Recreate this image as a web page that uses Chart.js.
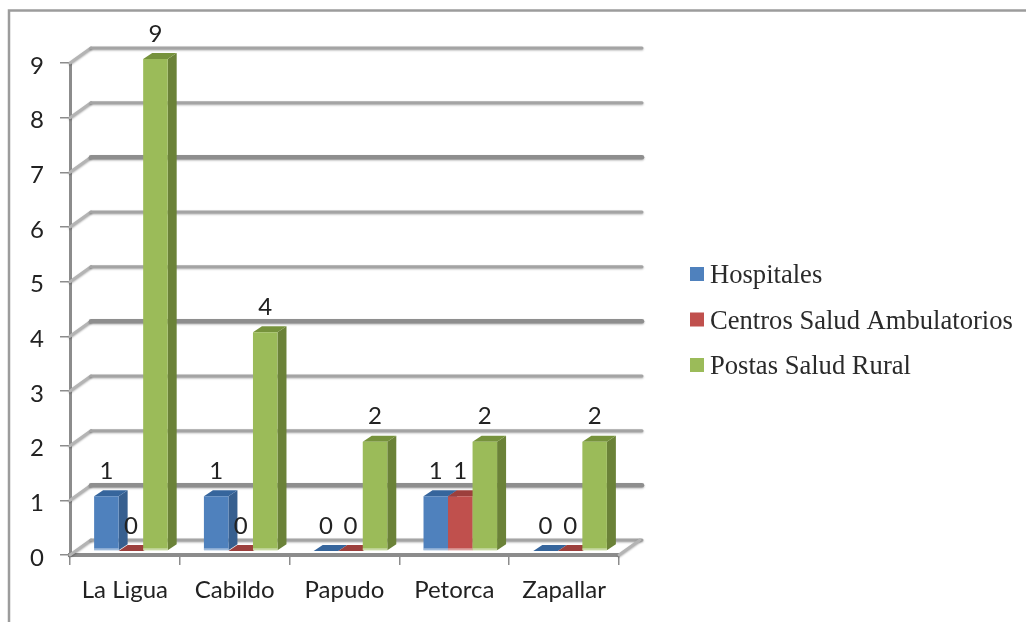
<!DOCTYPE html>
<html>
<head>
<meta charset="utf-8">
<style>
  html, body { margin: 0; padding: 0; background: #fff; }
  #wrap { position: relative; width: 1026px; height: 622px; }
</style>
<script src="https://cdn.jsdelivr.net/npm/chart.js@4"></script>
</head>
<body>
<div id="wrap"><canvas id="barras" width="1026" height="622"></canvas></div>
<script>
var comunas = ['La Ligua', 'Cabildo', 'Papudo', 'Petorca', 'Zapallar'];
var hospitales = [1, 1, 0, 1, 0];
var centros = [0, 0, 0, 1, 0];
var postas = [9, 4, 2, 2, 2];

// fake 3d: wall depth, bar shift from the floor, bar depth
var WALL = { x: 21, y: -15 };
var SHIFT = { x: 6, y: -4 };
var DEPTH = { x: 9, y: -6 };
var GRIS = '#8c8c8c';

var lados = ['#375f8f', '#8c3a38', '#6b8238'];
var techos = ['#36659c', '#9c3f3c', '#76923c'];

function paredes(chart) {
  var ctx = chart.ctx, y = chart.scales.y, a = chart.chartArea;
  ctx.save();
  ctx.lineCap = 'round';
  y.ticks.forEach(function (t) {
    var py = y.getPixelForValue(t.value);
    var grueso = (t.value - 1) % 3 === 0;
    ctx.shadowColor = 'rgba(0,0,0,0.3)';
    ctx.shadowBlur = 2;
    ctx.shadowOffsetY = 1;
    // diagonal on the left side wall
    ctx.strokeStyle = '#b4b4b4';
    ctx.lineWidth = 3;
    ctx.beginPath();
    ctx.moveTo(a.left, py);
    ctx.lineTo(a.left + WALL.x, py + WALL.y);
    ctx.stroke();
    // back wall line
    ctx.strokeStyle = grueso ? '#8e8e8e' : '#a4a4a4';
    ctx.lineWidth = grueso ? 4.5 : 3;
    ctx.beginPath();
    ctx.moveTo(a.left + WALL.x, py + WALL.y);
    ctx.lineTo(a.right + WALL.x + 2, py + WALL.y);
    ctx.stroke();
  });
  // right edge of the floor
  var y0 = y.getPixelForValue(0);
  ctx.strokeStyle = '#b4b4b4';
  ctx.lineWidth = 3;
  ctx.beginPath();
  ctx.moveTo(a.right, y0);
  ctx.lineTo(a.right + WALL.x, y0 + WALL.y);
  ctx.stroke();
  ctx.restore();
}

function barras3d(chart) {
  var ctx = chart.ctx;
  // datasets in index order so the nearest series ends up on top
  chart.data.datasets.forEach(function (ds, i) {
    var meta = chart.getDatasetMeta(i);
    ctx.save();
    ctx.translate(SHIFT.x, SHIFT.y);
    meta.data.forEach(function (bar) {
      var w = bar.width / 2;
      var r = bar.x + w, l = bar.x - w;
      ctx.fillStyle = lados[i];
      ctx.beginPath();
      ctx.moveTo(r, bar.y);
      ctx.lineTo(r + DEPTH.x, bar.y + DEPTH.y);
      ctx.lineTo(r + DEPTH.x, bar.base + DEPTH.y);
      ctx.lineTo(r, bar.base);
      ctx.closePath();
      ctx.fill();
      ctx.fillStyle = techos[i];
      ctx.beginPath();
      ctx.moveTo(l, bar.y);
      ctx.lineTo(l + DEPTH.x, bar.y + DEPTH.y);
      ctx.lineTo(r + DEPTH.x, bar.y + DEPTH.y);
      ctx.lineTo(r, bar.y);
      ctx.closePath();
      ctx.fill();
    });
    meta.controller.draw();
    // pale rim at the foot of each bar
    meta.data.forEach(function (bar) {
      if (bar.base - bar.y < 2) return;
      ctx.fillStyle = 'rgba(255,255,255,0.45)';
      ctx.fillRect(bar.x - bar.width / 2, bar.base - 2, bar.width, 2);
    });
    ctx.restore();
  });
}

function etiquetas(chart) {
  var ctx = chart.ctx;
  ctx.save();
  ctx.font = '24px Lato';
  ctx.fillStyle = '#222';
  ctx.textAlign = 'center';
  ctx.textBaseline = 'middle';
  chart.data.datasets.forEach(function (ds, i) {
    chart.getDatasetMeta(i).data.forEach(function (bar, j) {
      ctx.fillText(ds.data[j], bar.x + SHIFT.x, bar.y + SHIFT.y - 25);
    });
  });
  ctx.restore();
}

function leyenda(chart) {
  var ctx = chart.ctx;
  ctx.save();
  ctx.font = '26.6px "Liberation Serif"';
  ctx.textBaseline = 'alphabetic';
  chart.data.datasets.forEach(function (ds, i) {
    var y = 274 + i * 45.5;
    ctx.fillStyle = ds.backgroundColor;
    ctx.fillRect(690, y - 7, 14, 14);
    ctx.fillStyle = '#2a2a2a';
    ctx.fillText(ds.label, 710, y + 9);
  });
  ctx.restore();
}

var excel3d = {
  id: 'excel3d',
  beforeDatasetsDraw: function (chart) {
    paredes(chart);
    barras3d(chart);
    return false;
  },
  afterDraw: function (chart) {
    etiquetas(chart);
    leyenda(chart);
    // outer frame, only top and left survive in the scan
    var ctx = chart.ctx;
    ctx.save();
    ctx.strokeStyle = '#9c9c9c';
    ctx.lineWidth = 2.5;
    ctx.beginPath();
    ctx.moveTo(9, 622);
    ctx.lineTo(9, 10.5);
    ctx.lineTo(1026, 10.5);
    ctx.stroke();
    ctx.restore();
  }
};

new Chart(document.getElementById('barras'), {
  type: 'bar',
  data: {
    labels: comunas,
    datasets: [
      { label: 'Hospitales', data: hospitales, backgroundColor: '#4f81bd' },
      { label: 'Centros Salud Ambulatorios', data: centros, backgroundColor: '#c0504d' },
      { label: 'Postas Salud Rural', data: postas, backgroundColor: '#9bbb59' }
    ]
  },
  plugins: [excel3d],
  options: {
    responsive: false,
    animation: false,
    layout: { padding: { left: 10, top: 63, right: 407, bottom: 7 } },
    datasets: { bar: { categoryPercentage: 0.67, barPercentage: 1 } },
    plugins: {
      legend: { display: false },
      tooltip: { enabled: false }
    },
    scales: {
      x: {
        afterFit: function (s) { s.height = 60; },
        grid: { drawOnChartArea: false, color: GRIS, tickLength: 10, lineWidth: 1.5 },
        border: { color: GRIS, width: 4 },
        ticks: { color: '#222', font: { family: 'Lato', size: 24 }, padding: 11, maxRotation: 0 }
      },
      y: {
        min: 0,
        max: 9,
        afterFit: function (s) { s.width = 60; },
        grid: { drawOnChartArea: false, color: GRIS, tickLength: 10, lineWidth: 1.5 },
        border: { color: GRIS, width: 3 },
        ticks: { stepSize: 1, color: '#222', font: { family: 'Lato', size: 24 }, padding: 16, labelOffset: 3 }
      }
    }
  }
});
</script>
</body>
</html>
